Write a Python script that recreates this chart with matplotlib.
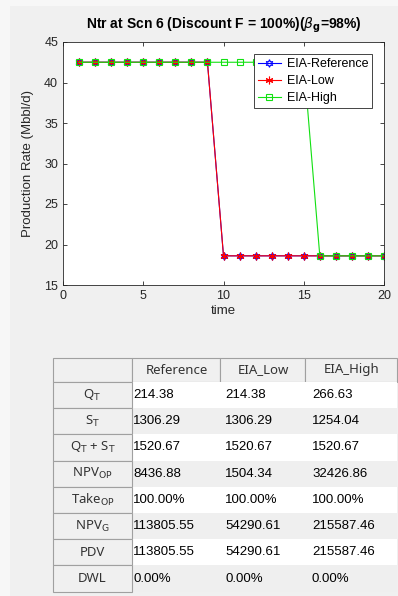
import matplotlib
matplotlib.use("Agg")
import matplotlib.pyplot as plt
from matplotlib.patches import Rectangle

# ---------------- data ----------------
t = list(range(1, 21))
ref_vals = [42.5] * 9 + [18.6] * 11
low_vals = [42.5] * 9 + [18.6] * 11
high_vals = [42.5] * 15 + [18.6] * 5

series_labels = ["EIA-Reference", "EIA-Low", "EIA-High"]
x_ticks = [0, 5, 10, 15, 20]
y_ticks = [15, 20, 25, 30, 35, 40, 45]

col_headers = ["Reference", "EIA_Low", "EIA_High"]
row_headers = [r"Q$_\mathrm{T}$", r"S$_\mathrm{T}$", r"Q$_\mathrm{T}$ + S$_\mathrm{T}$",
               r"NPV$_\mathrm{OP}$", r"Take$_\mathrm{OP}$", r"NPV$_\mathrm{G}$", "PDV", "DWL"]
col_reference = ["214.38", "1306.29", "1520.67", "8436.88", "100.00%", "113805.55", "113805.55", "0.00%"]
col_low = ["214.38", "1306.29", "1520.67", "1504.34", "100.00%", "54290.61", "54290.61", "0.00%"]
col_high = ["266.63", "1254.04", "1520.67", "32426.86", "100.00%", "215587.46", "215587.46", "0.00%"]

# ---------------- figure ----------------
plt.rcParams["font.family"] = ["Liberation Sans", "DejaVu Sans"]
plt.rcParams["mathtext.default"] = "regular"
W, H = 398, 596
fig = plt.figure(figsize=(W / 100, H / 100), dpi=100, facecolor="#f7f7f7")

# background panel
bg = fig.add_axes([0, 0, 1, 1])
bg.set_xlim(0, W)
bg.set_ylim(H, 0)
bg.axis("off")
bg.add_patch(Rectangle((10, 6), W - 10, H - 6, facecolor="#f0f0f0", edgecolor="none"))

# ---------------- chart ----------------
L, R, T, B = 63, 384, 42, 285
ax = fig.add_axes([L / W, 1 - B / H, (R - L) / W, (B - T) / H])
ax.plot(t, ref_vals, color="blue", marker=(6, 1, 0), markersize=5.5, markerfacecolor="none",
        markeredgewidth=0.8, linewidth=0.8, label=series_labels[0])
ax.plot(t, low_vals, color="red", marker=(6, 2, 0), markersize=5.5, markeredgewidth=0.8,
        linewidth=0.8, label=series_labels[1])
ax.plot(t, high_vals, color="#11e011", marker="s", markersize=4.5, markerfacecolor="none",
        markeredgewidth=0.8, linewidth=0.8, label=series_labels[2])
ax.set_xlim(0, 20)
ax.set_ylim(15, 45)
ax.set_xticks(x_ticks)
ax.set_yticks(y_ticks)
ax.tick_params(direction="in", top=True, right=True, labelsize=9, colors="#262626",
               length=3, width=0.6)
for s in ax.spines.values():
    s.set_linewidth(0.6)
    s.set_color("#262626")
ax.set_xlabel("time", fontsize=9.5, color="#262626", labelpad=2)
ax.set_ylabel("Production Rate (Mbbl/d)", fontsize=9.5, color="#262626", labelpad=7)
ax.set_title(r"Ntr at Scn 6 (Discount F = 100%)($\mathit{\beta}_\mathbf{g}$=98%)",
             fontsize=10, fontweight="bold", pad=10)
leg = ax.legend(loc="upper right", bbox_to_anchor=(0.963, 0.95), fontsize=9,
                frameon=True, fancybox=False, edgecolor="#262626", framealpha=1,
                borderpad=0.3, handlelength=1.8, handletextpad=0.5,
                labelspacing=0.42, borderaxespad=0)
leg.get_frame().set_linewidth(0.6)

# ---------------- table ----------------
col_x = [53, 132, 220, 305, 397]
ty0 = 358
head_h = 24
row_h = 26.2
border = "#a0a0a0"
font_head = ["Noto Sans", "DejaVu Sans"]

# header row
for i in range(4):
    bg.add_patch(Rectangle((col_x[i], ty0), col_x[i + 1] - col_x[i], head_h,
                           facecolor="#f0f0f0", edgecolor=border, linewidth=0.8))
for j, h in enumerate(col_headers):
    bg.text((col_x[j + 1] + col_x[j + 2]) / 2 + 1, ty0 + head_h / 2, h, ha="center", va="center",
            fontsize=9.5, color="#333333", family=font_head)

cols = [col_reference, col_low, col_high]
text_x = [133, 225, 312]
for r, lab in enumerate(row_headers):
    y = ty0 + head_h + r * row_h
    fill = "white" if r % 2 == 0 else "#efefef"
    bg.add_patch(Rectangle((col_x[1], y), col_x[4] - col_x[1], row_h,
                           facecolor=fill, edgecolor="none"))
    bg.add_patch(Rectangle((col_x[0], y), col_x[1] - col_x[0], row_h,
                           facecolor="#f0f0f0", edgecolor=border, linewidth=0.8))
    bg.text((col_x[0] + col_x[1]) / 2, y + row_h / 2, lab, ha="center", va="center",
            fontsize=9.5, color="#333333", family=font_head)
    for c in range(3):
        bg.text(text_x[c], y + row_h / 2, cols[c][r], ha="left", va="center",
                fontsize=9.5, color="black")

fig.savefig("out.png", dpi=100, facecolor=fig.get_facecolor())
